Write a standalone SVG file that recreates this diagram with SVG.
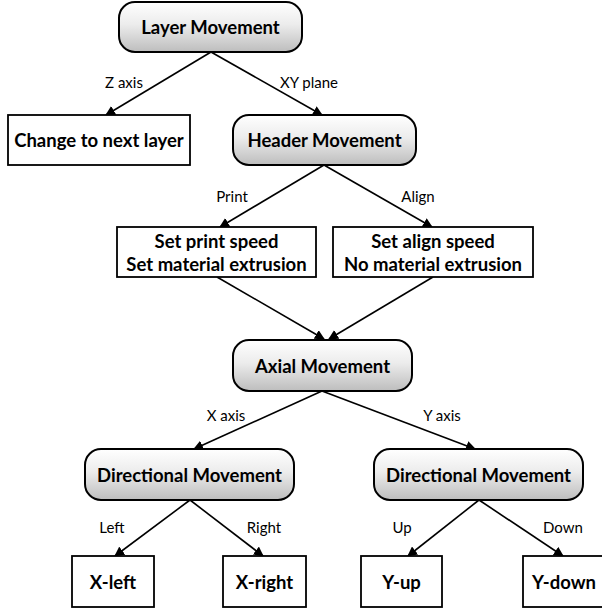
<svg xmlns="http://www.w3.org/2000/svg" width="602" height="609" viewBox="0 0 602 609">
<defs>
<linearGradient id="g" x1="0" y1="0" x2="0" y2="1">
<stop offset="0" stop-color="#ffffff"/>
<stop offset="0.45" stop-color="#ececec"/>
<stop offset="1" stop-color="#bdbdbd"/>
</linearGradient>
<marker id="ah" viewBox="0 0 10 10" refX="9" refY="5" markerWidth="10" markerHeight="10" markerUnits="userSpaceOnUse" orient="auto">
<path d="M0,0 L10,5 L0,10 z" fill="#000"/>
</marker>
</defs>
<style>
.r{fill:url(#g);stroke:#000;stroke-width:2}
.b{fill:#fff;stroke:#000;stroke-width:1.8}
.t{font-family:Lato,"Liberation Sans",sans-serif;font-weight:bold;font-size:18.5px;text-anchor:middle;dominant-baseline:central;fill:#000}
.l{font-family:Lato,"Liberation Sans",sans-serif;font-size:15px;text-anchor:middle;dominant-baseline:central;fill:#000}
.c line{stroke:#000;stroke-width:1.6;marker-end:url(#ah)}
</style>
<rect width="602" height="609" fill="#fff"/>
<g class="c" id="connectors">
<line x1="211" y1="52" x2="106" y2="115"/>
<line x1="211" y1="52" x2="322" y2="115"/>
<line x1="324" y1="165" x2="220" y2="227"/>
<line x1="324" y1="165" x2="432" y2="227"/>
<line x1="217" y1="277" x2="324" y2="339"/>
<line x1="433" y1="277" x2="329" y2="339"/>
<line x1="322" y1="391" x2="194" y2="449"/>
<line x1="322" y1="391" x2="475" y2="449"/>
<line x1="190" y1="500" x2="115" y2="556"/>
<line x1="190" y1="500" x2="263" y2="556"/>
<line x1="479" y1="500" x2="408" y2="556"/>
<line x1="479" y1="500" x2="563" y2="556"/>
</g>
<g id="labels">
<text class="l" x="124" y="82">Z axis</text>
<text class="l" x="309" y="82">XY plane</text>
<text class="l" x="232" y="196">Print</text>
<text class="l" x="418" y="196">Align</text>
<text class="l" x="226" y="415">X axis</text>
<text class="l" x="442" y="415">Y axis</text>
<text class="l" x="112" y="527">Left</text>
<text class="l" x="264" y="527">Right</text>
<text class="l" x="402" y="527">Up</text>
<text class="l" x="563" y="527">Down</text>
</g>
<g id="layer"><rect class="r" x="119" y="2" width="183" height="50" rx="16"/><text class="t" x="210.5" y="27">Layer Movement</text></g>
<g id="change"><rect class="b" x="8" y="115" width="182" height="50"/><text class="t" x="99" y="140">Change to next layer</text></g>
<g id="header"><rect class="r" x="233" y="115" width="183" height="50" rx="16"/><text class="t" x="324.5" y="140">Header Movement</text></g>
<g id="print"><rect class="b" x="117" y="227" width="199" height="50"/><text class="t" x="216.5" y="240.5">Set print speed</text><text class="t" x="216.5" y="264">Set material extrusion</text></g>
<g id="align"><rect class="b" x="333" y="227" width="200" height="50"/><text class="t" x="433" y="240.5">Set align speed</text><text class="t" x="433" y="264">No material extrusion</text></g>
<g id="axial"><rect class="r" x="233" y="340" width="179" height="51" rx="16"/><text class="t" x="322.5" y="365.5">Axial Movement</text></g>
<g id="dirx"><rect class="r" x="85" y="449" width="209" height="51" rx="16"/><text class="t" x="189.5" y="474.5">Directional Movement</text></g>
<g id="diry"><rect class="r" x="374" y="449" width="209" height="51" rx="16"/><text class="t" x="478.5" y="474.5">Directional Movement</text></g>
<g id="xleft"><rect class="b" x="72" y="556" width="82" height="51"/><text class="t" x="113" y="581.5">X-left</text></g>
<g id="xright"><rect class="b" x="223" y="556" width="83" height="51"/><text class="t" x="264.5" y="581.5">X-right</text></g>
<g id="yup"><rect class="b" x="361" y="556" width="81" height="51"/><text class="t" x="401.5" y="581.5">Y-up</text></g>
<g id="ydown"><rect class="b" x="523" y="556" width="82" height="51"/><text class="t" x="564" y="581.5">Y-down</text></g>
</svg>
